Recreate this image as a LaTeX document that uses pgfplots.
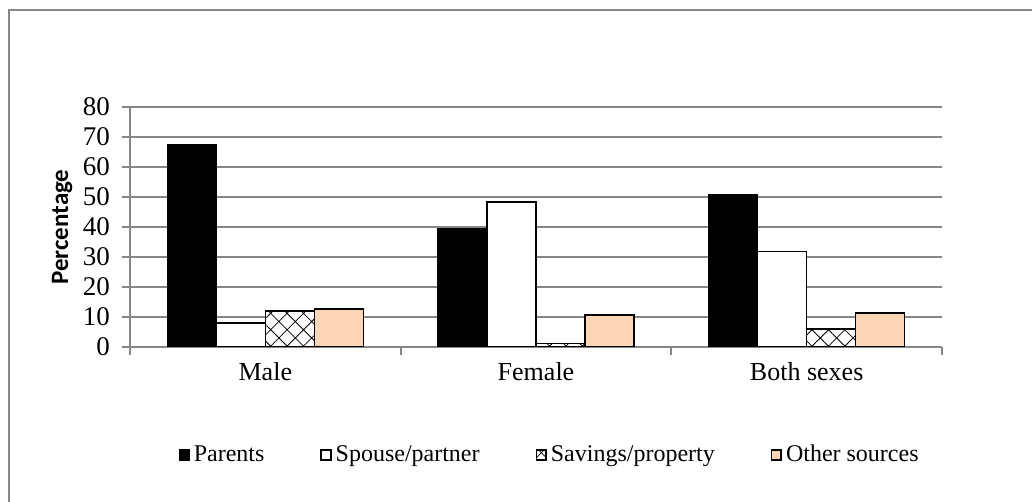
\documentclass[border=0pt]{standalone}
\usepackage{pgfplots}
\pgfplotsset{compat=1.18}
\usepackage{fontspec}
\setmainfont{Liberation Serif}
\newfontfamily\calibri{Carlito}
\usetikzlibrary{patterns.meta}
\definecolor{gridgray}{RGB}{134,134,134}
\definecolor{peach}{RGB}{252,213,181}
\begin{document}
\begin{tikzpicture}[x=1pt,y=1pt]
\useasboundingbox (0,0) rectangle (516,251);
\draw[gridgray, line width=0.9pt] (4.5,0) -- (4.5,246) -- (516,246);
\begin{axis}[
  at={(65pt,77.5pt)}, anchor=south west,
  scale only axis, width=406pt, height=120pt,
  xmin=-0.5, xmax=2.5, ymin=0, ymax=80,
  ytick={0,10,...,80},
  xtick={-0.5,0.5,1.5,2.5},
  x tick label as interval,
  xticklabels={Male,Female,Both sexes},
  axis x line*=bottom, axis y line*=left,
  axis line style={gridgray, line width=0.9pt, -},
  ymajorgrids, major grid style={gridgray, line width=0.9pt},
  tick style={gridgray, line width=0.9pt}, tick align=outside, major tick length=4pt,
  yticklabel style={font=\fontsize{13.5}{15}\selectfont, xshift=-2.5pt},
  xticklabel style={font=\fontsize{13}{15}\selectfont},
  /pgf/number format/assume math mode=true,
  ylabel={Percentage},
  ylabel style={at={(axis description cs:-0.0837,0.5)}, anchor=center, font=\calibri\bfseries\fontsize{12.5}{14}\selectfont},
  ybar=0pt, bar width=0.181,
  legend columns=4,
  legend style={at={(0.518,-0.45)}, anchor=center, draw=none, font=\fontsize{12}{14}\selectfont,
    /tikz/every even column/.append style={column sep=26pt}},
  legend image code/.code={\draw[#1] (0pt,-2.4pt) rectangle (4.8pt,2.4pt);},
]
\addplot[bar shift=-0.2715, fill=black, draw=black, line width=0.8pt] coordinates {(0,67.3) (1,39.5) (2,50.6)};
\addplot[bar shift=-0.0905, fill=white, draw=black, line width=0.8pt] coordinates {(0,7.9) (1,48.4) (2,31.8)};
\addplot[bar shift=0.0905, fill=white, draw=black, line width=0.8pt,
  postaction={pattern={Hatch[angle=45,distance=5.8pt,line width=0.4pt]}}] coordinates {(0,12) (1,1.2) (2,6)};
\addplot[bar shift=0.2715, fill=peach, draw=black, line width=0.8pt] coordinates {(0,12.6) (1,10.6) (2,11.3)};
\legend{Parents,Spouse/partner,Savings/property,Other sources}
\end{axis}
\end{tikzpicture}
\end{document}
